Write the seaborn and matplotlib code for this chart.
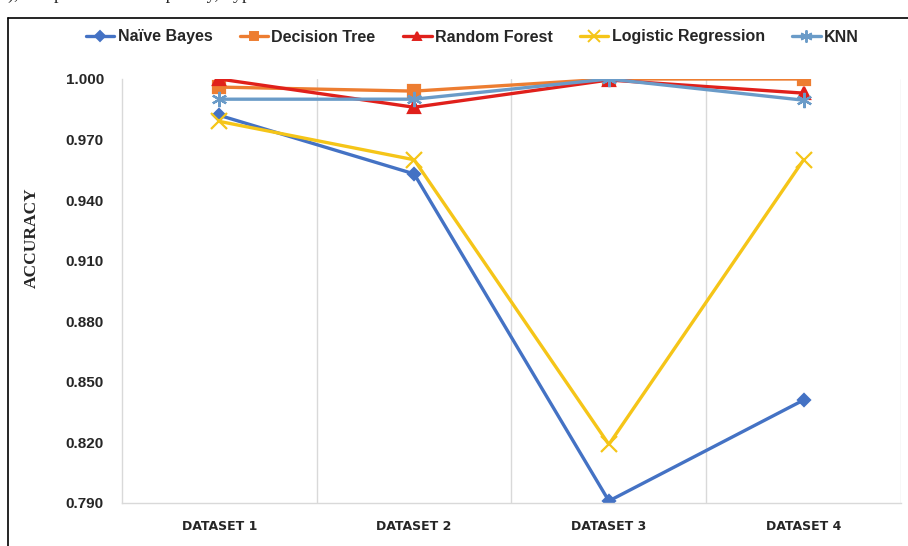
import matplotlib
matplotlib.use("Agg")
import matplotlib.pyplot as plt
from matplotlib.lines import Line2D
import seaborn as sns
import pandas as pd

categories = ["DATASET 1", "DATASET 2", "DATASET 3", "DATASET 4"]
models = ["Naïve Bayes", "Decision Tree", "Random Forest", "Logistic Regression", "KNN"]
naive_bayes = [0.982, 0.953, 0.791, 0.841]
decision_tree = [0.996, 0.994, 1.000, 1.000]
random_forest = [1.000, 0.986, 0.9995, 0.993]
logistic_regression = [0.979, 0.960, 0.819, 0.960]
knn = [0.990, 0.990, 1.000, 0.9895]
yticks = [0.790, 0.820, 0.850, 0.880, 0.910, 0.940, 0.970, 1.000]

series = [naive_bayes, decision_tree, random_forest, logistic_regression, knn]
rows = []
for m, vals in zip(models, series):
    for c, v in zip(categories, vals):
        rows.append({"Dataset": c, "Model": m, "Accuracy": v})
df = pd.DataFrame(rows)

colors = {"Naïve Bayes": "#4472C4", "Decision Tree": "#ED7D31",
          "Random Forest": "#E0201B", "Logistic Regression": "#F5C518",
          "KNN": "#6A9BC8"}
markers = {"Naïve Bayes": "D", "Decision Tree": "s", "Random Forest": "^",
           "Logistic Regression": "x", "KNN": (6, 2, 0)}
msizes = {"Naïve Bayes": 6, "Decision Tree": 8, "Random Forest": 8,
          "Logistic Regression": 11, "KNN": 11}

sns.set_style("white")
fig = plt.figure(figsize=(9.08, 5.46), dpi=100)
ax = fig.add_axes([122 / 908, 43 / 546, 779 / 908, 424 / 546])

for m in models:
    sub = df[df["Model"] == m]
    sns.lineplot(data=sub, x="Dataset", y="Accuracy", color=colors[m],
                 marker=markers[m], markersize=msizes[m], markeredgewidth=1.6,
                 markeredgecolor=colors[m], linewidth=2.4, ax=ax, sort=False)

ax.set_xlim(-0.5, 3.5)
ax.set_ylim(0.790, 1.000)
ax.set_yticks(yticks)
ax.set_yticklabels([f"{v:.3f}" for v in yticks], fontsize=11, fontweight="bold",
                   family=["Liberation Sans", "DejaVu Sans"])
ax.set_xticks(range(len(categories)))
ax.set_xticklabels(categories, fontsize=9, fontweight="bold", family="DejaVu Sans")
ax.tick_params(axis="x", length=0, pad=12)
ax.tick_params(axis="y", length=0, pad=13)
ax.set_xlabel("")
ax.set_ylabel("")
fig.text(32 / 908, 1 - 238 / 546, "ACCURACY", rotation=90, ha="center",
         va="center", fontsize=12.5, fontweight="bold",
         family=["Liberation Serif", "DejaVu Serif"])

for xg in [0.5, 1.5, 2.5, 3.5]:
    ax.axvline(xg, color="#D9D9D9", lw=1.0, zorder=0)
for s in ["top", "right"]:
    ax.spines[s].set_visible(False)
for s in ["left", "bottom"]:
    ax.spines[s].set_color("#D9D9D9")
    ax.spines[s].set_linewidth(1.0)

handles = [Line2D([0], [0], color=colors[m], marker=markers[m], lw=2.4,
                  markersize=msizes[m] * 0.8, markeredgewidth=1.4,
                  markeredgecolor=colors[m]) for m in models]
fig.legend(handles, models, loc="center", bbox_to_anchor=(0.52, 1 - 37 / 546),
           ncol=5, frameon=False, handlelength=1.8, handletextpad=0.2,
           columnspacing=1.7,
           prop={"family": ["Liberation Sans", "DejaVu Sans"],
                 "weight": "bold", "size": 11.5})

# page frame lines from the source document
fig.add_artist(Line2D([8 / 908, 1], [1 - 18 / 546, 1 - 18 / 546],
                      transform=fig.transFigure, color="black", lw=1.2))
fig.add_artist(Line2D([8 / 908, 8 / 908], [0, 1 - 18 / 546],
                      transform=fig.transFigure, color="black", lw=1.2))
fig.text(0.0, 1 + 6 / 546, "e), computational  complexity,  type  of",
         family=["Liberation Serif", "DejaVu Serif"], fontsize=13,
         va="center", ha="left")

fig.savefig("out.png", dpi=100)
